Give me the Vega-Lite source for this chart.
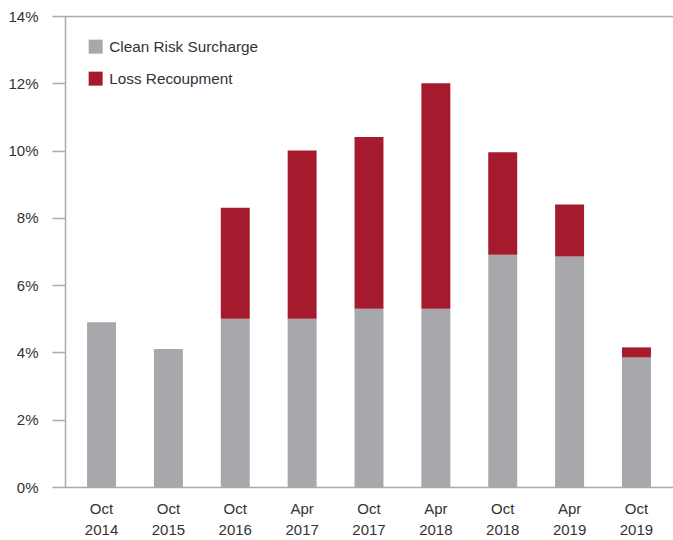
{
  "$schema": "https://vega.github.io/schema/vega-lite/v6.json",
  "width": 608,
  "height": 471,
  "autosize": {"type": "none"},
  "padding": {"left": 65, "top": 16, "right": 0, "bottom": 53},
  "config": {
    "view": {"stroke": null},
    "font": "Liberation Sans",
    "axis": {"labelFont": "Liberation Sans", "labelColor": "#333333", "labelFontSize": 15}
  },
  "data": {
    "values": [
      {"period": "Oct 2014", "component": "Clean Risk Surcharge", "value": 0.049, "ord": 1},
      {"period": "Oct 2014", "component": "Loss Recoupment", "value": 0.0, "ord": 2},
      {"period": "Oct 2015", "component": "Clean Risk Surcharge", "value": 0.041, "ord": 1},
      {"period": "Oct 2015", "component": "Loss Recoupment", "value": 0.0, "ord": 2},
      {"period": "Oct 2016", "component": "Clean Risk Surcharge", "value": 0.050, "ord": 1},
      {"period": "Oct 2016", "component": "Loss Recoupment", "value": 0.033, "ord": 2},
      {"period": "Apr 2017", "component": "Clean Risk Surcharge", "value": 0.050, "ord": 1},
      {"period": "Apr 2017", "component": "Loss Recoupment", "value": 0.050, "ord": 2},
      {"period": "Oct 2017", "component": "Clean Risk Surcharge", "value": 0.053, "ord": 1},
      {"period": "Oct 2017", "component": "Loss Recoupment", "value": 0.051, "ord": 2},
      {"period": "Apr 2018", "component": "Clean Risk Surcharge", "value": 0.053, "ord": 1},
      {"period": "Apr 2018", "component": "Loss Recoupment", "value": 0.067, "ord": 2},
      {"period": "Oct 2018", "component": "Clean Risk Surcharge", "value": 0.069, "ord": 1},
      {"period": "Oct 2018", "component": "Loss Recoupment", "value": 0.0305, "ord": 2},
      {"period": "Apr 2019", "component": "Clean Risk Surcharge", "value": 0.0685, "ord": 1},
      {"period": "Apr 2019", "component": "Loss Recoupment", "value": 0.0155, "ord": 2},
      {"period": "Oct 2019", "component": "Clean Risk Surcharge", "value": 0.0385, "ord": 1},
      {"period": "Oct 2019", "component": "Loss Recoupment", "value": 0.003, "ord": 2}
    ]
  },
  "mark": {"type": "bar"},
  "encoding": {
    "x": {
      "field": "period",
      "type": "nominal",
      "sort": null,
      "scale": {"paddingInner": 0.567, "paddingOuter": 0.33},
      "axis": {
        "title": null,
        "labelAngle": 0,
        "ticks": false,
        "domainColor": "#aaaaaa",
        "domainWidth": 1.5,
        "labelPadding": 14,
        "labelLineHeight": 21,
        "labelExpr": "split(datum.label, ' ')"
      }
    },
    "y": {
      "field": "value",
      "type": "quantitative",
      "stack": "zero",
      "scale": {"domain": [0, 0.14], "nice": false},
      "axis": {
        "title": null,
        "values": [0, 0.02, 0.04, 0.06, 0.08, 0.1, 0.12, 0.14],
        "format": ".0%",
        "tickSize": 13,
        "tickColor": "#aaaaaa",
        "tickWidth": 1.5,
        "domainColor": "#aaaaaa",
        "domainWidth": 1.5,
        "labelPadding": 14,
        "grid": true,
        "gridColor": "#aaaaaa",
        "gridWidth": 1.5,
        "gridOpacity": {"condition": {"test": "datum.value >= 0.139", "value": 1}, "value": 0}
      }
    },
    "color": {
      "field": "component",
      "type": "nominal",
      "scale": {"domain": ["Clean Risk Surcharge", "Loss Recoupment"], "range": ["#a7a8ab", "#a51a2d"]},
      "legend": {
        "title": null,
        "orient": "none",
        "legendX": 23,
        "legendY": 23,
        "padding": 0,
        "symbolType": "square",
        "symbolSize": 196,
        "symbolStrokeWidth": 0,
        "symbolOpacity": 1,
        "labelFontSize": 15.3,
        "labelColor": "#333333",
        "labelFont": "Liberation Sans",
        "labelOffset": 6,
        "rowPadding": 16,
        "labelLimit": 300
      }
    },
    "order": {"field": "ord", "type": "quantitative"}
  }
}
